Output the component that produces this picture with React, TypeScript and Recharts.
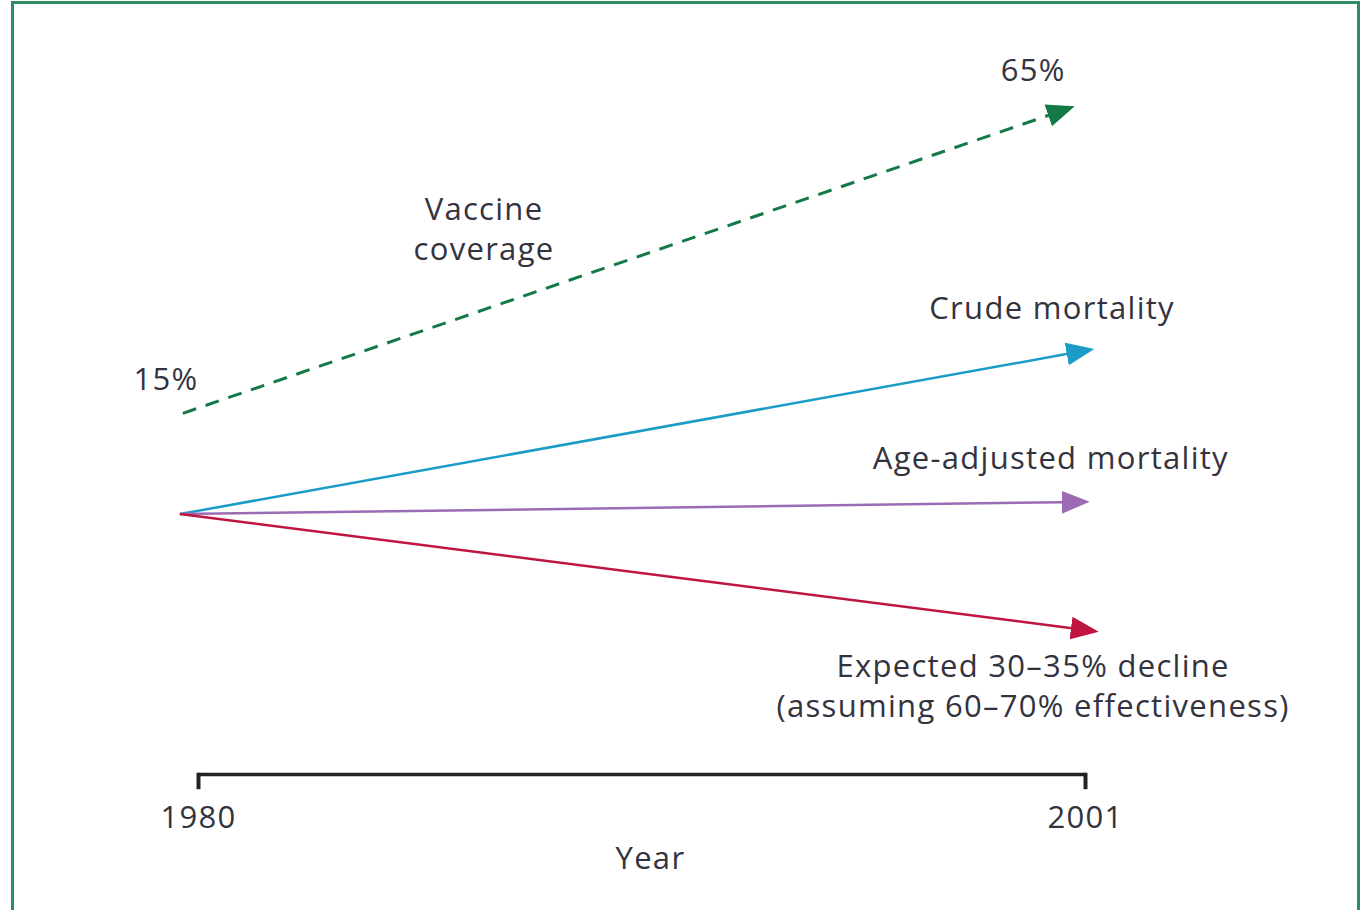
import React from 'react';
import { LineChart, Line, XAxis, YAxis, ReferenceLine, ReferenceDot } from 'recharts';

// each series: start and arrow-base points (year, relative level)
const vaccineCoverage = [
  { year: 1979.63, value: 51.6 },
  { year: 2000.14, value: 94.2 },
];
const crudeMortality = [
  { year: 1979.56, value: 37.2 },
  { year: 2000.58, value: 60.1 },
];
const ageAdjustedMortality = [
  { year: 1979.56, value: 37.2 },
  { year: 2000.46, value: 38.9 },
];
const expectedDecline = [
  { year: 1979.56, value: 37.2 },
  { year: 2000.68, value: 20.9 },
];

const tickYears = [1980, 2001];

// text annotations, anchored in chart coordinates
const annotations = [
  { year: 1999.76, value: 100.8, lines: ['65%'] },
  { year: 1986.76, value: 78.1, lines: ['Vaccine', 'coverage'] },
  { year: 1979.23, value: 56.6, lines: ['15%'] },
  { year: 2000.21, value: 66.8, lines: ['Crude mortality'] },
  { year: 2000.18, value: 45.4, lines: ['Age-adjusted mortality'] },
  { year: 1999.76, value: 12.8, lines: ['Expected 30–35% decline', '(assuming 60–70% effectiveness)'] },
  { year: 1990.7, value: -11.8, lines: ['Year'] },
];

const GREEN = '#137a47';
const BLUE = '#1a9cc6';
const PURPLE = '#9b6bb3';
const RED = '#bf1440';
const TEXT = '#333340';
const FONT = '"Open Sans", sans-serif';

const Arrow = ({ id, color }: { id: string; color: string }) => (
  <marker
    id={id}
    markerUnits="userSpaceOnUse"
    markerWidth={28}
    markerHeight={24}
    viewBox="0 0 28 24"
    refX={1}
    refY={12}
    orient="auto"
  >
    <path d="M0,0.5 L28,12 L0,23.5 z" fill={color} />
  </marker>
);

const MultiLineLabel = (lines: string[]) => (props: any) => {
  const { viewBox } = props;
  const cx = viewBox.x + (viewBox.width || 0) / 2;
  const cy = viewBox.y + (viewBox.height || 0) / 2;
  const lh = 40;
  const top = cy - ((lines.length - 1) * lh) / 2;
  return (
    <text textAnchor="middle" fontFamily={FONT} fontSize={31} letterSpacing={1.3} fill={TEXT}>
      {lines.map((l, i) => (
        <tspan key={i} x={cx} y={top + i * lh} dominantBaseline="central">
          {l}
        </tspan>
      ))}
    </text>
  );
};

export default function App() {
  return (
    <div style={{ position: 'absolute', left: 0, top: 0, width: 1360, height: 910, overflow: 'hidden', background: '#fff' }}>
      <svg width={0} height={0} style={{ position: 'absolute' }}>
        <defs>
          <Arrow id="arr-green" color={GREEN} />
          <Arrow id="arr-blue" color={BLUE} />
          <Arrow id="arr-purple" color={PURPLE} />
          <Arrow id="arr-red" color={RED} />
        </defs>
      </svg>
      <div
        style={{
          position: 'absolute',
          left: 11,
          top: 1,
          width: 1349,
          height: 960,
          boxSizing: 'border-box',
          border: '3px solid #2e8b62',
        }}
      />
      <div style={{ position: 'absolute', left: 0, top: 0 }}>
        <LineChart
          width={1360}
          height={910}
          margin={{ top: 74.5, right: 232.26, bottom: 135.5, left: 156.26 }}
        >
          <XAxis type="number" dataKey="year" domain={[1979, 2002]} allowDataOverflow hide />
          <YAxis type="number" domain={[0, 100]} allowDataOverflow hide />

          {/* bracket axis */}
          <ReferenceLine
            segment={[{ x: tickYears[0], y: 0 }, { x: tickYears[1], y: 0 }]}
            stroke="#222"
            strokeWidth={3.5}
            ifOverflow="visible"
          />
          {tickYears.map((yr) => (
            <ReferenceLine
              key={yr}
              segment={[{ x: yr, y: 0.25 }, { x: yr, y: -2.1 }]}
              stroke="#222"
              strokeWidth={4}
              ifOverflow="visible"
            />
          ))}
          {tickYears.map((yr) => (
            <ReferenceDot
              key={'t' + yr}
              x={yr}
              y={-5.9}
              r={0}
              stroke="none"
              ifOverflow="visible"
              label={MultiLineLabel([String(yr)])}
            />
          ))}

          <Line
            data={vaccineCoverage}
            dataKey="value"
            stroke={GREEN}
            strokeWidth={3}
            strokeDasharray="14 10"
            dot={false}
            activeDot={false}
            isAnimationActive={false}
            markerEnd="url(#arr-green)"
          />
          <Line
            data={crudeMortality}
            dataKey="value"
            stroke={BLUE}
            strokeWidth={2.5}
            dot={false}
            activeDot={false}
            isAnimationActive={false}
            markerEnd="url(#arr-blue)"
          />
          <Line
            data={ageAdjustedMortality}
            dataKey="value"
            stroke={PURPLE}
            strokeWidth={2.5}
            dot={false}
            activeDot={false}
            isAnimationActive={false}
            markerEnd="url(#arr-purple)"
          />
          <Line
            data={expectedDecline}
            dataKey="value"
            stroke={RED}
            strokeWidth={2.5}
            dot={false}
            activeDot={false}
            isAnimationActive={false}
            markerEnd="url(#arr-red)"
          />

          {annotations.map((a, i) => (
            <ReferenceDot
              key={'a' + i}
              x={a.year}
              y={a.value}
              r={0}
              stroke="none"
              ifOverflow="visible"
              label={MultiLineLabel(a.lines)}
            />
          ))}
        </LineChart>
      </div>
    </div>
  );
}
